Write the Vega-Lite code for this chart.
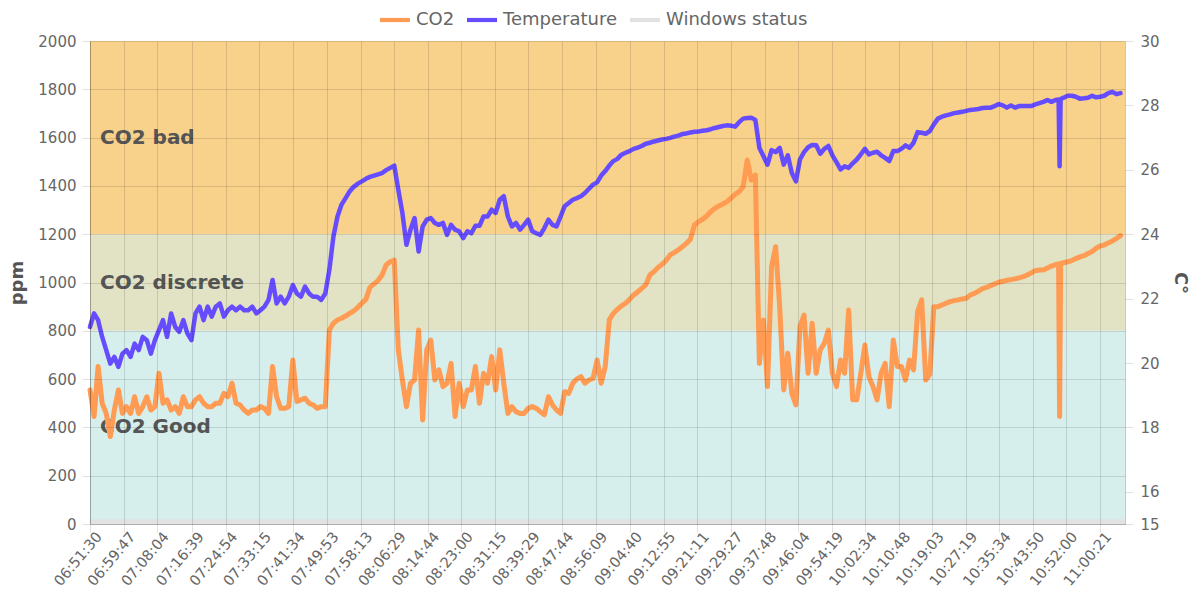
{
  "$schema": "https://vega.github.io/schema/vega-lite/v6.json",
  "width": 1035,
  "height": 483,
  "autosize": {"type": "none"},
  "padding": {"left": 90, "top": 41, "right": 68, "bottom": 68},
  "background": "white",
  "config": {
    "font": "DejaVu Sans",
    "view": {"stroke": null},
    "axis": {
      "labelColor": "#666",
      "labelFontSize": 15,
      "labelFont": "DejaVu Sans",
      "titleFont": "DejaVu Sans",
      "titleFontWeight": "bold",
      "titleFontSize": 18,
      "titleColor": "#555",
      "gridColor": "#000",
      "gridOpacity": 0.12,
      "tickColor": "#000",
      "tickOpacity": 0.12,
      "tickSize": 8,
      "domainColor": "#000",
      "domainOpacity": 0.22
    },
    "axisX": {"labelOverlap": false, "tickCount": 60}
  },
  "data": {
    "values": [
      {"t":"06:51:30","co2":555,"temp":21.12},{"t":"06:52:30","co2":445,"temp":21.54},{"t":"06:53:30","co2":652,"temp":21.33},{"t":"06:54:30","co2":500,"temp":20.81},{"t":"06:55:30","co2":458,"temp":20.40},{"t":"06:56:30","co2":362,"temp":19.98},{"t":"06:57:30","co2":472,"temp":20.19},{"t":"06:58:30","co2":555,"temp":19.88},{"t":"06:59:30","co2":458,"temp":20.29},{"t":"07:00:30","co2":486,"temp":20.40},
      {"t":"07:01:30","co2":458,"temp":20.19},{"t":"07:02:30","co2":527,"temp":20.60},{"t":"07:03:30","co2":458,"temp":20.40},{"t":"07:04:30","co2":486,"temp":20.81},{"t":"07:05:30","co2":527,"temp":20.71},{"t":"07:06:30","co2":472,"temp":20.29},{"t":"07:07:30","co2":486,"temp":20.71},{"t":"07:08:30","co2":624,"temp":21.02},{"t":"07:09:30","co2":500,"temp":21.33},{"t":"07:10:30","co2":514,"temp":20.81},
      {"t":"07:11:30","co2":472,"temp":21.54},{"t":"07:12:30","co2":486,"temp":21.12},{"t":"07:13:30","co2":458,"temp":20.97},{"t":"07:14:30","co2":527,"temp":21.33},{"t":"07:15:30","co2":486,"temp":20.92},{"t":"07:16:30","co2":486,"temp":20.71},{"t":"07:17:30","co2":514,"temp":21.54},{"t":"07:18:30","co2":527,"temp":21.75},{"t":"07:19:30","co2":500,"temp":21.33},{"t":"07:20:30","co2":486,"temp":21.75},
      {"t":"07:21:30","co2":486,"temp":21.44},{"t":"07:22:30","co2":500,"temp":21.75},{"t":"07:23:30","co2":500,"temp":21.85},{"t":"07:24:30","co2":541,"temp":21.44},{"t":"07:25:30","co2":527,"temp":21.64},{"t":"07:26:30","co2":583,"temp":21.75},{"t":"07:27:30","co2":500,"temp":21.64},{"t":"07:28:30","co2":493,"temp":21.75},{"t":"07:29:30","co2":472,"temp":21.64},{"t":"07:30:30","co2":458,"temp":21.64},
      {"t":"07:31:30","co2":472,"temp":21.75},{"t":"07:32:30","co2":472,"temp":21.54},{"t":"07:33:30","co2":486,"temp":21.64},{"t":"07:34:30","co2":479,"temp":21.75},{"t":"07:35:30","co2":458,"temp":21.96},{"t":"07:36:30","co2":652,"temp":22.58},{"t":"07:37:30","co2":527,"temp":21.85},{"t":"07:38:30","co2":479,"temp":22.06},{"t":"07:39:30","co2":479,"temp":21.85},{"t":"07:40:30","co2":486,"temp":22.06},
      {"t":"07:41:30","co2":679,"temp":22.42},{"t":"07:42:30","co2":507,"temp":22.16},{"t":"07:43:30","co2":514,"temp":22.06},{"t":"07:44:30","co2":521,"temp":22.37},{"t":"07:45:30","co2":500,"temp":22.16},{"t":"07:46:30","co2":493,"temp":22.06},{"t":"07:47:30","co2":479,"temp":22.06},{"t":"07:48:30","co2":486,"temp":21.96},{"t":"07:49:30","co2":486,"temp":22.16},{"t":"07:50:30","co2":803,"temp":22.89},
      {"t":"07:51:30","co2":831,"temp":23.93},{"t":"07:52:30","co2":845,"temp":24.55},{"t":"07:53:30","co2":852,"temp":24.92},{"t":"07:54:30","co2":861,"temp":25.12},{"t":"07:55:30","co2":872,"temp":25.33},{"t":"07:56:30","co2":882,"temp":25.47},{"t":"07:57:30","co2":897,"temp":25.57},{"t":"07:58:30","co2":914,"temp":25.64},{"t":"07:59:30","co2":930,"temp":25.72},{"t":"08:00:30","co2":980,"temp":25.78},
      {"t":"08:01:30","co2":994,"temp":25.82},{"t":"08:02:30","co2":1008,"temp":25.86},{"t":"08:03:30","co2":1031,"temp":25.90},{"t":"08:04:30","co2":1073,"temp":25.99},{"t":"08:05:30","co2":1086,"temp":26.06},{"t":"08:06:30","co2":1093,"temp":26.13},{"t":"08:07:30","co2":721,"temp":25.38},{"t":"08:08:30","co2":596,"temp":24.66},{"t":"08:09:30","co2":486,"temp":23.67},{"t":"08:10:30","co2":583,"temp":24.14},
      {"t":"08:11:30","co2":596,"temp":24.50},{"t":"08:12:30","co2":803,"temp":23.46},{"t":"08:13:30","co2":431,"temp":24.24},{"t":"08:14:30","co2":721,"temp":24.45},{"t":"08:15:30","co2":762,"temp":24.50},{"t":"08:16:30","co2":596,"temp":24.35},{"t":"08:17:30","co2":638,"temp":24.29},{"t":"08:18:30","co2":569,"temp":24.35},{"t":"08:19:30","co2":583,"temp":23.98},{"t":"08:20:30","co2":665,"temp":24.29},
      {"t":"08:21:30","co2":445,"temp":24.14},{"t":"08:22:30","co2":583,"temp":24.09},{"t":"08:23:30","co2":486,"temp":23.88},{"t":"08:24:30","co2":555,"temp":24.09},{"t":"08:25:30","co2":555,"temp":24.03},{"t":"08:26:30","co2":652,"temp":24.26},{"t":"08:27:30","co2":500,"temp":24.26},{"t":"08:28:30","co2":624,"temp":24.55},{"t":"08:29:30","co2":583,"temp":24.55},{"t":"08:30:30","co2":693,"temp":24.76},
      {"t":"08:31:30","co2":555,"temp":24.66},{"t":"08:32:30","co2":721,"temp":25.07},{"t":"08:33:30","co2":583,"temp":25.18},{"t":"08:34:30","co2":458,"temp":24.55},{"t":"08:35:30","co2":486,"temp":24.24},{"t":"08:36:30","co2":465,"temp":24.35},{"t":"08:37:30","co2":458,"temp":24.14},{"t":"08:38:30","co2":458,"temp":24.29},{"t":"08:39:30","co2":479,"temp":24.45},{"t":"08:40:30","co2":486,"temp":24.09},
      {"t":"08:41:30","co2":479,"temp":24.03},{"t":"08:42:30","co2":465,"temp":23.98},{"t":"08:43:30","co2":452,"temp":24.19},{"t":"08:44:30","co2":527,"temp":24.45},{"t":"08:45:30","co2":493,"temp":24.29},{"t":"08:46:30","co2":472,"temp":24.24},{"t":"08:47:30","co2":458,"temp":24.55},{"t":"08:48:30","co2":548,"temp":24.87},{"t":"08:49:30","co2":541,"temp":24.97},{"t":"08:50:30","co2":583,"temp":25.07},
      {"t":"08:51:30","co2":600,"temp":25.12},{"t":"08:52:30","co2":610,"temp":25.18},{"t":"08:53:30","co2":583,"temp":25.28},{"t":"08:54:30","co2":596,"temp":25.41},{"t":"08:55:30","co2":603,"temp":25.54},{"t":"08:56:30","co2":679,"temp":25.61},{"t":"08:57:30","co2":583,"temp":25.82},{"t":"08:58:30","co2":652,"temp":25.96},{"t":"08:59:30","co2":845,"temp":26.13},{"t":"09:00:30","co2":872,"temp":26.27},
      {"t":"09:01:30","co2":889,"temp":26.34},{"t":"09:02:30","co2":903,"temp":26.47},{"t":"09:03:30","co2":914,"temp":26.53},{"t":"09:04:30","co2":930,"temp":26.58},{"t":"09:05:30","co2":948,"temp":26.65},{"t":"09:06:30","co2":961,"temp":26.69},{"t":"09:07:30","co2":976,"temp":26.74},{"t":"09:08:30","co2":990,"temp":26.81},{"t":"09:09:30","co2":1031,"temp":26.84},{"t":"09:10:30","co2":1045,"temp":26.88},
      {"t":"09:11:30","co2":1062,"temp":26.91},{"t":"09:12:30","co2":1075,"temp":26.94},{"t":"09:13:30","co2":1091,"temp":26.96},{"t":"09:14:30","co2":1114,"temp":26.99},{"t":"09:15:30","co2":1124,"temp":27.03},{"t":"09:16:30","co2":1135,"temp":27.06},{"t":"09:17:30","co2":1148,"temp":27.11},{"t":"09:18:30","co2":1162,"temp":27.13},{"t":"09:19:30","co2":1179,"temp":27.16},{"t":"09:20:30","co2":1238,"temp":27.18},
      {"t":"09:21:30","co2":1252,"temp":27.19},{"t":"09:22:30","co2":1262,"temp":27.21},{"t":"09:23:30","co2":1275,"temp":27.23},{"t":"09:24:30","co2":1293,"temp":27.26},{"t":"09:25:30","co2":1307,"temp":27.30},{"t":"09:26:30","co2":1317,"temp":27.33},{"t":"09:27:30","co2":1325,"temp":27.36},{"t":"09:28:30","co2":1335,"temp":27.38},{"t":"09:29:30","co2":1349,"temp":27.37},{"t":"09:30:30","co2":1365,"temp":27.34},
      {"t":"09:31:30","co2":1376,"temp":27.48},{"t":"09:32:30","co2":1397,"temp":27.59},{"t":"09:33:30","co2":1507,"temp":27.61},{"t":"09:34:30","co2":1424,"temp":27.62},{"t":"09:35:30","co2":1445,"temp":27.55},{"t":"09:36:30","co2":665,"temp":26.68},{"t":"09:37:30","co2":845,"temp":26.42},{"t":"09:38:30","co2":569,"temp":26.16},{"t":"09:39:30","co2":1066,"temp":26.61},{"t":"09:40:30","co2":1148,"temp":26.55},
      {"t":"09:41:30","co2":900,"temp":26.68},{"t":"09:42:30","co2":555,"temp":26.16},{"t":"09:43:30","co2":707,"temp":26.45},{"t":"09:44:30","co2":541,"temp":25.90},{"t":"09:45:30","co2":493,"temp":25.64},{"t":"09:46:30","co2":817,"temp":26.32},{"t":"09:47:30","co2":865,"temp":26.55},{"t":"09:48:30","co2":624,"temp":26.70},{"t":"09:49:30","co2":831,"temp":26.77},{"t":"09:50:30","co2":624,"temp":26.76},
      {"t":"09:51:30","co2":721,"temp":26.50},{"t":"09:52:30","co2":748,"temp":26.65},{"t":"09:53:30","co2":803,"temp":26.74},{"t":"09:54:30","co2":624,"temp":26.45},{"t":"09:55:30","co2":569,"temp":26.24},{"t":"09:56:30","co2":679,"temp":26.01},{"t":"09:57:30","co2":624,"temp":26.11},{"t":"09:58:30","co2":886,"temp":26.06},{"t":"09:59:30","co2":514,"temp":26.20},{"t":"10:00:30","co2":514,"temp":26.32},
      {"t":"10:01:30","co2":624,"temp":26.48},{"t":"10:02:30","co2":741,"temp":26.65},{"t":"10:03:30","co2":610,"temp":26.48},{"t":"10:04:30","co2":569,"temp":26.53},{"t":"10:05:30","co2":514,"temp":26.56},{"t":"10:06:30","co2":624,"temp":26.45},{"t":"10:07:30","co2":665,"temp":26.37},{"t":"10:08:30","co2":486,"temp":26.27},{"t":"10:09:30","co2":762,"temp":26.58},{"t":"10:10:30","co2":652,"temp":26.58},
      {"t":"10:11:30","co2":652,"temp":26.65},{"t":"10:12:30","co2":596,"temp":26.76},{"t":"10:13:30","co2":679,"temp":26.68},{"t":"10:14:30","co2":638,"temp":26.84},{"t":"10:15:30","co2":880,"temp":27.17},{"t":"10:16:30","co2":928,"temp":27.15},{"t":"10:17:30","co2":596,"temp":27.12},{"t":"10:18:30","co2":620,"temp":27.20},{"t":"10:19:30","co2":900,"temp":27.41},{"t":"10:20:30","co2":900,"temp":27.59},
      {"t":"10:21:30","co2":907,"temp":27.65},{"t":"10:22:30","co2":914,"temp":27.69},{"t":"10:23:30","co2":921,"temp":27.72},{"t":"10:24:30","co2":925,"temp":27.76},{"t":"10:25:30","co2":928,"temp":27.78},{"t":"10:26:30","co2":932,"temp":27.80},{"t":"10:27:30","co2":935,"temp":27.83},{"t":"10:28:30","co2":948,"temp":27.86},{"t":"10:29:30","co2":955,"temp":27.87},{"t":"10:30:30","co2":964,"temp":27.89},
      {"t":"10:31:30","co2":975,"temp":27.92},{"t":"10:32:30","co2":980,"temp":27.93},{"t":"10:33:30","co2":987,"temp":27.93},{"t":"10:34:30","co2":994,"temp":27.98},{"t":"10:35:30","co2":1001,"temp":28.04},{"t":"10:36:30","co2":1005,"temp":28.00},{"t":"10:37:30","co2":1009,"temp":27.93},{"t":"10:38:30","co2":1012,"temp":28.00},{"t":"10:39:30","co2":1015,"temp":27.93},{"t":"10:40:30","co2":1019,"temp":27.98},
      {"t":"10:41:30","co2":1024,"temp":27.98},{"t":"10:42:30","co2":1031,"temp":27.98},{"t":"10:43:30","co2":1040,"temp":27.98},{"t":"10:44:30","co2":1049,"temp":28.03},{"t":"10:45:30","co2":1052,"temp":28.07},{"t":"10:46:30","co2":1052,"temp":28.11},{"t":"10:47:30","co2":1060,"temp":28.17},{"t":"10:48:30","co2":1068,"temp":28.11},{"t":"10:49:30","co2":1074,"temp":28.17},{"t":"10:50:15","co2":1077,"temp":28.18},
      {"t":"10:50:30","co2":445,"temp":26.11},{"t":"10:50:45","co2":1079,"temp":28.20},{"t":"10:51:30","co2":1082,"temp":28.24},{"t":"10:52:30","co2":1086,"temp":28.30},{"t":"10:53:30","co2":1091,"temp":28.30},{"t":"10:54:30","co2":1099,"temp":28.27},{"t":"10:55:30","co2":1106,"temp":28.21},{"t":"10:56:30","co2":1111,"temp":28.22},{"t":"10:57:30","co2":1120,"temp":28.24},{"t":"10:58:30","co2":1128,"temp":28.30},
      {"t":"10:59:30","co2":1142,"temp":28.25},{"t":"11:00:30","co2":1151,"temp":28.27},{"t":"11:01:30","co2":1155,"temp":28.30},{"t":"11:02:30","co2":1164,"temp":28.38},{"t":"11:03:30","co2":1172,"temp":28.42},{"t":"11:04:30","co2":1182,"temp":28.35},{"t":"11:05:30","co2":1194,"temp":28.38}
    ],
    "format": {"parse": {"t": "date:'%H:%M:%S'"}}
  },
  "layer": [
    {
      "layer": [
        {
          "data": {"values": [
            {"band": "bad", "lo": 1200, "hi": 2000},
            {"band": "discrete", "lo": 800, "hi": 1200},
            {"band": "good", "lo": 0, "hi": 800}
          ]},
          "mark": {"type": "rect"},
          "encoding": {
            "y": {"field": "lo", "type": "quantitative", "title": "ppm", "scale": {"domain": [0, 2000], "nice": false},
              "axis": {"title": "ppm", "format": "d", "values": [0,200,400,600,800,1000,1200,1400,1600,1800,2000], "grid": true, "zindex": 1, "labelPadding": 6, "titlePadding": 11}},
            "y2": {"field": "hi"},
            "fill": {"field": "band", "type": "nominal", "legend": null,
              "scale": {"domain": ["bad", "discrete", "good"], "range": ["#f8d18b", "#e2e2c4", "#d6eeec"]}}
          }
        },
        {
          "data": {"values": [{"status": "closed", "lo": 0, "hi": 20}]},
          "mark": {"type": "rect"},
          "encoding": {
            "y": {"field": "lo", "type": "quantitative", "title": "ppm", "axis": {"format": "d"}},
            "y2": {"field": "hi"},
            "color": {"datum": "Windows status", "type": "nominal",
              "scale": {"domain": ["CO2", "Temperature", "Windows status"], "range": ["#ff9b52", "#654cff", "#e2e2e2"]},
              "legend": {"orient": "none", "legendX": 290, "legendY": -36, "direction": "horizontal", "title": null,
                "labelFontSize": 18, "labelColor": "#666", "labelFont": "DejaVu Sans", "labelOffset": 6, "columnPadding": 12,
                "symbolType": "M-1,-0.14H1V0.14H-1Z", "symbolSize": 900, "symbolStrokeWidth": 0, "padding": 0,
                "encode": {"symbols": {"update": {"fill": {"scale": "color", "field": "value"}, "strokeWidth": {"value": 0}, "opacity": {"value": 1}}}}}
            }
          }
        },
        {
          "data": {"values": [
            {"label": "CO2 bad", "t": "06:51:30", "ppm": 1600},
            {"label": "CO2 discrete", "t": "06:51:30", "ppm": 1000},
            {"label": "CO2 Good", "t": "06:51:30", "ppm": 400}
          ], "format": {"parse": {"t": "date:'%H:%M:%S'"}}},
          "mark": {"type": "text", "align": "left", "baseline": "middle", "dx": 10, "font": "DejaVu Sans", "fontWeight": "bold", "fontSize": 20, "fill": "#555"},
          "encoding": {
            "x": {"field": "t", "type": "temporal", "title": null, "axis": {"labelOverlap": false, "format": "%H:%M:%S", "tickCount": 60}},
            "y": {"field": "ppm", "type": "quantitative", "title": "ppm", "axis": {"format": "d"}},
            "text": {"field": "label"}
          }
        },
        {
          "mark": {"type": "line", "strokeWidth": 5, "strokeJoin": "round", "strokeCap": "round"},
          "encoding": {
            "x": {"field": "t", "type": "temporal", "title": null,
              "scale": {"domain": [
                {"year": 1900, "month": 1, "date": 1, "hours": 6, "minutes": 51, "seconds": 30},
                {"year": 1900, "month": 1, "date": 1, "hours": 11, "minutes": 6, "seconds": 37}
              ]},
              "axis": {"title": null, "format": "%H:%M:%S", "labelAngle": -50, "labelAlign": "right", "labelBaseline": "middle", "labelOffset": 9, "labelPadding": 2, "labelFontSize": 14.5, "grid": true, "zindex": 1, "labelOverlap": false, "tickCount": 60,
                "values": [
                  {"year":1900,"month":1,"date":1,"hours":6,"minutes":51,"seconds":30},
                  {"year":1900,"month":1,"date":1,"hours":6,"minutes":59,"seconds":47},
                  {"year":1900,"month":1,"date":1,"hours":7,"minutes":8,"seconds":4},
                  {"year":1900,"month":1,"date":1,"hours":7,"minutes":16,"seconds":39},
                  {"year":1900,"month":1,"date":1,"hours":7,"minutes":24,"seconds":54},
                  {"year":1900,"month":1,"date":1,"hours":7,"minutes":33,"seconds":15},
                  {"year":1900,"month":1,"date":1,"hours":7,"minutes":41,"seconds":34},
                  {"year":1900,"month":1,"date":1,"hours":7,"minutes":49,"seconds":53},
                  {"year":1900,"month":1,"date":1,"hours":7,"minutes":58,"seconds":13},
                  {"year":1900,"month":1,"date":1,"hours":8,"minutes":6,"seconds":29},
                  {"year":1900,"month":1,"date":1,"hours":8,"minutes":14,"seconds":44},
                  {"year":1900,"month":1,"date":1,"hours":8,"minutes":23,"seconds":0},
                  {"year":1900,"month":1,"date":1,"hours":8,"minutes":31,"seconds":15},
                  {"year":1900,"month":1,"date":1,"hours":8,"minutes":39,"seconds":29},
                  {"year":1900,"month":1,"date":1,"hours":8,"minutes":47,"seconds":44},
                  {"year":1900,"month":1,"date":1,"hours":8,"minutes":56,"seconds":9},
                  {"year":1900,"month":1,"date":1,"hours":9,"minutes":4,"seconds":40},
                  {"year":1900,"month":1,"date":1,"hours":9,"minutes":12,"seconds":55},
                  {"year":1900,"month":1,"date":1,"hours":9,"minutes":21,"seconds":11},
                  {"year":1900,"month":1,"date":1,"hours":9,"minutes":29,"seconds":27},
                  {"year":1900,"month":1,"date":1,"hours":9,"minutes":37,"seconds":48},
                  {"year":1900,"month":1,"date":1,"hours":9,"minutes":46,"seconds":4},
                  {"year":1900,"month":1,"date":1,"hours":9,"minutes":54,"seconds":19},
                  {"year":1900,"month":1,"date":1,"hours":10,"minutes":2,"seconds":34},
                  {"year":1900,"month":1,"date":1,"hours":10,"minutes":10,"seconds":48},
                  {"year":1900,"month":1,"date":1,"hours":10,"minutes":19,"seconds":3},
                  {"year":1900,"month":1,"date":1,"hours":10,"minutes":27,"seconds":19},
                  {"year":1900,"month":1,"date":1,"hours":10,"minutes":35,"seconds":34},
                  {"year":1900,"month":1,"date":1,"hours":10,"minutes":43,"seconds":50},
                  {"year":1900,"month":1,"date":1,"hours":10,"minutes":52,"seconds":0},
                  {"year":1900,"month":1,"date":1,"hours":11,"minutes":0,"seconds":21}
                ]}},
            "y": {"field": "co2", "type": "quantitative", "title": "ppm", "axis": {"format": "d"}},
            "color": {"datum": "CO2", "type": "nominal"}
          }
        }
      ]
    },
    {
      "mark": {"type": "line", "strokeWidth": 4.5, "strokeJoin": "round", "strokeCap": "round"},
      "encoding": {
        "x": {"field": "t", "type": "temporal", "title": null, "axis": {"labelOverlap": false, "format": "%H:%M:%S", "tickCount": 60}},
        "y": {"field": "temp", "type": "quantitative", "scale": {"domain": [15, 30], "nice": false},
          "axis": {"orient": "right", "title": "C°", "values": [15,16,18,20,22,24,26,28,30], "grid": false, "labelPadding": 7, "titlePadding": 11}},
        "color": {"datum": "Temperature", "type": "nominal"}
      }
    }
  ],
  "resolve": {"scale": {"y": "independent"}}
}
